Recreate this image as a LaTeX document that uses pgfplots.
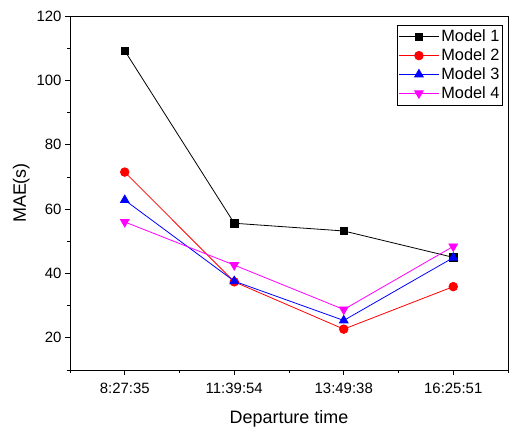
\documentclass[border=0pt]{standalone}
\usepackage{pgfplots}
\pgfplotsset{compat=1.18}
\usepackage{fontspec}
\setmainfont{Liberation Sans}
\definecolor{mag}{RGB}{255,0,255}
\begin{document}
\begin{tikzpicture}
\useasboundingbox (-70bp,-60bp) rectangle (439bp,370bp);
\begin{axis}[
  scale only axis,
  width=438bp, height=354bp,
  xmin=0.5, xmax=4.5, ymin=10, ymax=120,
  xtick={1,2,3,4},
  xticklabels={8:27:35,11:39:54,13:49:38,16:25:51},
  minor xtick={0.5,1.5,2.5,3.5,4.5},
  ytick={20,40,60,80,100,120},
  minor ytick={10,30,50,70,90,110},
  tick align=outside,
  xtick pos=left, ytick pos=left,
  major tick length=5bp, minor tick length=3bp,
  every tick/.style={black, line width=0.8bp},
  axis line style={line width=0.8bp},
  /pgf/number format/assume math mode=true,
  tick label style={font=\fontsize{15}{18}\selectfont},
  xticklabel style={yshift=-5bp},
  label style={font=\fontsize{18}{21}\selectfont},
  xlabel style={yshift=-10bp},
  xlabel={Departure time},
  ylabel={MAE(s)},
  legend cell align=left,
  legend style={at={(rel axis cs:0.988,0.975)}, anchor=north east,
    draw=black, line width=0.6bp, font=\fontsize{16.4}{19}\selectfont,
    inner xsep=1bp, inner ysep=3bp, row sep=1.5bp},
  legend image code/.code={
    \draw[mark repeat=2,mark phase=2] plot coordinates {(0bp,0bp) (20bp,0bp) (40bp,0bp)};
  },
]
\addplot[black, line width=0.8bp, mark=square*, mark size=3.8bp, mark options={solid}]
  coordinates {(1,109.2) (2,55.6) (3,53.2) (4,45.0)};
\addlegendentry{Model 1}
\addplot[red, line width=0.8bp, mark=*, mark size=4.3bp]
  coordinates {(1,71.5) (2,37.4) (3,22.7) (4,35.9)};
\addlegendentry{Model 2}
\addplot[blue, line width=0.8bp, mark=triangle*, mark size=5bp]
  coordinates {(1,62.8) (2,37.6) (3,25.4) (4,44.9)};
\addlegendentry{Model 3}
\addplot[mag, line width=0.8bp, mark=triangle*, mark size=5bp, mark options={rotate=180}]
  coordinates {(1,56.0) (2,42.6) (3,28.8) (4,48.4)};
\addlegendentry{Model 4}
\end{axis}
\end{tikzpicture}
\end{document}
